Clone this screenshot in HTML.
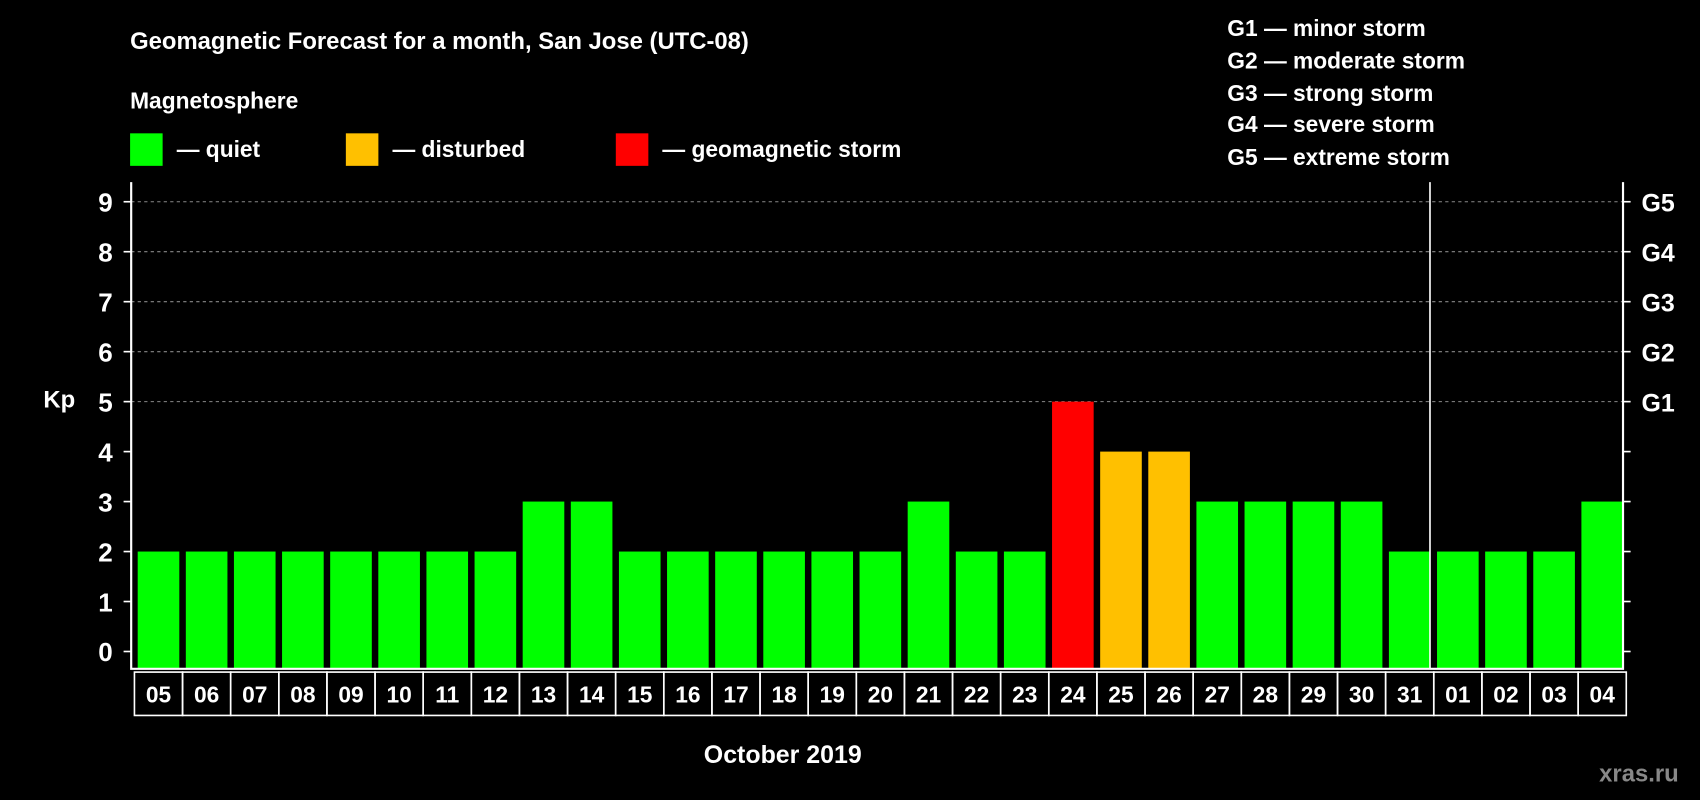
<!DOCTYPE html>
<html><head><meta charset="utf-8"><style>
html,body{margin:0;padding:0;background:#000;width:1700px;height:800px;overflow:hidden}
svg{display:block}
text{font-family:"Liberation Sans",sans-serif;font-weight:bold;fill:#fff}
</style></head><body>
<svg id="chart" width="1700" height="800" viewBox="0 0 1568 738" preserveAspectRatio="none">
<rect width="1568" height="738" fill="#000"/>
<text x="120" y="45" font-size="22">Geomagnetic Forecast for a month, San Jose (UTC-08)</text>
<text x="120" y="100" font-size="21">Magnetosphere</text>
<g><rect x="120" y="123" width="30" height="30" fill="#00ff00"/><text x="163" y="145" font-size="21">— quiet</text></g>
<g><rect x="319" y="123" width="30" height="30" fill="#ffc000"/><text x="362" y="145" font-size="21">— disturbed</text></g>
<g><rect x="568" y="123" width="30" height="30" fill="#ff0000"/><text x="611" y="145" font-size="21">— geomagnetic storm</text></g>
<g font-size="21">
<text x="1132" y="33">G1 — minor storm</text>
<text x="1132" y="63">G2 — moderate storm</text>
<text x="1132" y="93">G3 — strong storm</text>
<text x="1132" y="122">G4 — severe storm</text>
<text x="1132" y="152">G5 — extreme storm</text>
</g>
<text x="40" y="376" font-size="22">Kp</text>
<text x="722" y="704" font-size="23" text-anchor="middle">October 2019</text>
<text x="1475" y="721" font-size="22" style="fill:#888">xras.ru</text>
<g id="grid"></g><g id="bars"></g><g id="axes"></g>
</svg>
<script>
const days=["05","06","07","08","09","10","11","12","13","14","15","16","17","18","19","20","21","22","23","24","25","26","27","28","29","30","31","01","02","03","04"];
const kp=[2,2,2,2,2,2,2,2,3,3,2,2,2,2,2,2,3,2,2,5,4,4,3,3,3,3,2,2,2,2,3];
const yTicks=[0,1,2,3,4,5,6,7,8,9];
const gLabels=["G1","G2","G3","G4","G5"];
const gLevels=[5,6,7,8,9];
const NS="http://www.w3.org/2000/svg";
const L=121,R=1497,T=168,B=617;
const y=v=>601-v*46.1;
const bw=(R-L)/days.length;
const x=i=>L+i*bw;
function mk(tag,attrs,parent){const e=document.createElementNS(NS,tag);for(const k in attrs)e.setAttribute(k,attrs[k]);document.getElementById(parent).appendChild(e);return e;}
const color=v=>v>=5?"#ff0000":(v>=4?"#ffc000":"#00ff00");
gLevels.forEach(v=>{const l=mk("line",{x1:L,x2:R,y1:y(v),y2:y(v),stroke:"#888","stroke-dasharray":"3,3","stroke-width":1},"grid");

});
kp.forEach((v,i)=>{const r=mk("rect",{x:x(i)+6,y:y(v),width:bw-6,height:B-y(v),fill:color(v)},"bars");


const b=mk("rect",{x:x(i)+3,y:620,width:bw,height:40,fill:"none",stroke:"#fff","stroke-width":1.5},"axes");


const t=mk("text",{x:x(i)+3+bw/2,y:648,"font-size":21,"text-anchor":"middle"},"axes");t.textContent=days[i];

});
const frame=mk("path",{d:`M${L} ${T}V${B}H${R}V${T}`,fill:"none",stroke:"#fff","stroke-width":2},"axes");


const sep=mk("line",{x1:x(27)-0.5,x2:x(27)-0.5,y1:T,y2:B,stroke:"#fff","stroke-width":1.5},"axes");


yTicks.forEach(v=>{mk("line",{x1:L-7,x2:L,y1:y(v),y2:y(v),stroke:"#fff","stroke-width":1.5},"axes");
mk("line",{x1:R,x2:R+7,y1:y(v),y2:y(v),stroke:"#fff","stroke-width":1.5},"axes");
const t=mk("text",{x:104,y:y(v)+9,"font-size":24,"text-anchor":"end"},"axes");t.textContent=v;

});
gLevels.forEach((v,i)=>{const t=mk("text",{x:1514,y:y(v)+9,"font-size":23},"axes");t.textContent=gLabels[i];

});
</script>
</body></html>
